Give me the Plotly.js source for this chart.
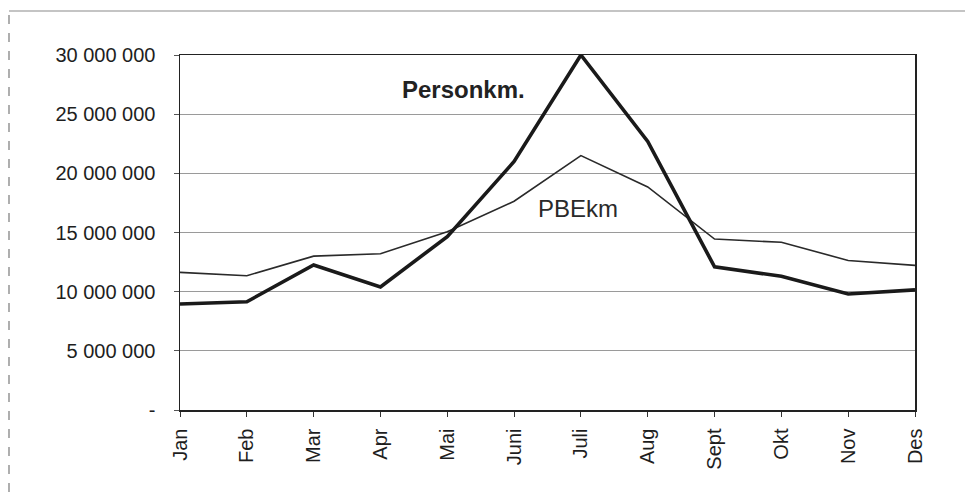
<!DOCTYPE html>
<html>
<head>
<meta charset="utf-8">
<script src="https://cdn.plot.ly/plotly-3.0.1.min.js"></script>
<style>
  html, body { margin: 0; padding: 0; background: #fff; }
  #chart { width: 965px; height: 499px; }
</style>
</head>
<body>
<div id="chart"></div>
<script>
// Data
var months = ['Jan','Feb','Mar','Apr','Mai','Juni','Juli','Aug','Sept','Okt','Nov','Des'];
var personkm = [8960000, 9150000, 12250000, 10400000, 14650000, 21000000, 30000000, 22700000, 12100000, 11300000, 9800000, 10150000];
var pbekm = [11630000, 11350000, 13000000, 13200000, 15070000, 17640000, 21500000, 18850000, 14450000, 14170000, 12640000, 12220000];
var yTickVals = [0, 5000000, 10000000, 15000000, 20000000, 25000000, 30000000];
var yTickText = ['-', '5 000 000', '10 000 000', '15 000 000', '20 000 000', '25 000 000', '30 000 000'];
var seriesLabels = ['Personkm.', 'PBEkm'];

var font = 'Liberation Sans, Arial, sans-serif';
var ink = '#1e1e1e';

var traces = [
  {
    type: 'scatter', mode: 'lines', x: months, y: pbekm, name: seriesLabels[1],
    line: { color: '#2a2a2a', width: 1.6 }, cliponaxis: false, hoverinfo: 'skip'
  },
  {
    type: 'scatter', mode: 'lines', x: months, y: personkm, name: seriesLabels[0],
    line: { color: '#1a1a1a', width: 3.6 }, cliponaxis: false, hoverinfo: 'skip'
  }
];

var layout = {
  width: 965, height: 499,
  margin: { l: 180, r: 50, t: 55, b: 89 },
  paper_bgcolor: '#ffffff', plot_bgcolor: '#ffffff',
  showlegend: false,
  font: { family: font, color: ink, size: 20 },
  xaxis: {
    type: 'category', categoryorder: 'array', categoryarray: months,
    range: [0, months.length - 1],
    tickangle: -90, tickfont: { family: font, size: 20, color: ink },
    ticks: 'outside', ticklen: 5, tickcolor: '#333', tickwidth: 1,
    ticklabelstandoff: 4,
    showgrid: false, zeroline: false,
    showline: true, linecolor: '#222', linewidth: 1.5, mirror: true
  },
  yaxis: {
    range: [0, 30000000],
    tickvals: yTickVals, ticktext: yTickText,
    tickfont: { family: font, size: 20, color: ink },
    ticks: 'outside', ticklen: 5, tickcolor: '#555', tickwidth: 1,
    ticklabelstandoff: 14,
    showgrid: true, gridcolor: '#9a9a9a', gridwidth: 1,
    zeroline: false,
    showline: true, linecolor: '#222', linewidth: 1.5, mirror: true
  },
  annotations: [
    { x: 4.24, y: 27100000, xref: 'x', yref: 'y', text: '<b>' + seriesLabels[0] + '</b>',
      showarrow: false, font: { family: font, size: 24, color: '#222' } },
    { x: 5.96, y: 17000000, xref: 'x', yref: 'y', text: seriesLabels[1],
      showarrow: false, font: { family: font, size: 24, color: '#2a2a2a' } }
  ],
  shapes: [
    { type: 'line', xref: 'paper', yref: 'paper', xsizemode: 'pixel', ysizemode: 'pixel',
      xanchor: 0, yanchor: 1, x0: -171, x1: -171, y0: 40, y1: -444,
      line: { color: '#7a7a7a', width: 1.2, dash: 'dash' } },
    { type: 'line', xref: 'paper', yref: 'paper', xsizemode: 'pixel', ysizemode: 'pixel',
      xanchor: 0, yanchor: 1, x0: -171, x1: 785, y0: 44, y1: 44,
      line: { color: '#8a8a8a', width: 1.2 } }
  ]
};

Plotly.newPlot('chart', traces, layout, { staticPlot: true, displayModeBar: false });
</script>
</body>
</html>
